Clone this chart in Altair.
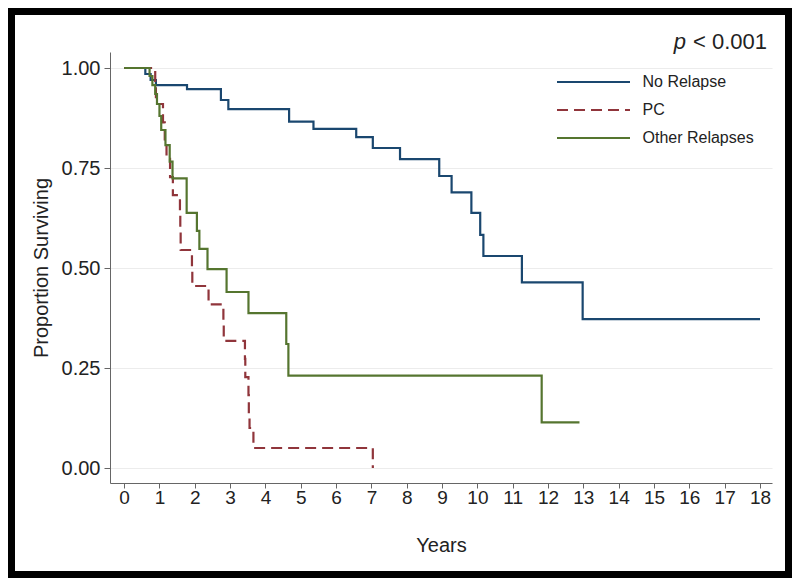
import altair as alt
import pandas as pd

# ---- data (Kaplan-Meier step curves) ----
series_names = ["No Relapse", "PC", "Other Relapses"]

no_relapse_t = [0, 0.6, 0.75, 0.9, 1.78, 2.74, 2.95, 4.67, 5.36, 6.57, 7.04, 7.81,
                8.92, 9.27, 9.83, 10.08, 10.17, 11.26, 12.98, 18.0]
no_relapse_s = [1.0, 0.985, 0.97, 0.957, 0.947, 0.92, 0.897, 0.866, 0.848, 0.827, 0.8, 0.772,
                0.73, 0.689, 0.638, 0.583, 0.53, 0.464, 0.372, 0.372]

pc_t = [0, 0.88, 0.9, 1.1, 1.15, 1.2, 1.3, 1.38, 1.58, 1.59, 1.6, 1.92, 1.93,
        2.39, 2.81, 2.82, 3.42, 3.43, 3.52, 3.53, 3.55, 3.66, 7.04]
pc_s = [1.0, 0.955, 0.91, 0.864, 0.818, 0.773, 0.727, 0.682, 0.636, 0.591, 0.545, 0.5, 0.455,
        0.409, 0.364, 0.318, 0.273, 0.227, 0.182, 0.136, 0.1, 0.05, 0.0]

other_t = [0, 0.72, 0.8, 0.88, 0.93, 1.0, 1.05, 1.17, 1.29, 1.37, 1.77, 2.06, 2.13,
           2.36, 2.9, 3.52, 4.59, 4.65, 11.82, 12.89]
other_s = [1.0, 0.98, 0.957, 0.935, 0.91, 0.88, 0.845, 0.807, 0.766, 0.724, 0.638, 0.593, 0.548,
           0.497, 0.44, 0.387, 0.31, 0.231, 0.114, 0.114]

x_ticks = list(range(0, 19))
y_ticks = [0, 0.25, 0.5, 0.75, 1.0]

colors = ["#1a476f", "#90353b", "#55752f"]
dashes = [[1, 0], [11, 6], [1, 0]]

rows = []
for name, ts, ss in [("No Relapse", no_relapse_t, no_relapse_s),
                     ("PC", pc_t, pc_s),
                     ("Other Relapses", other_t, other_s)]:
    for t, s in zip(ts, ss):
        rows.append({"series": name, "t": t, "s": s})
df = pd.DataFrame(rows)

FONT = "Liberation Sans"

leg = alt.Legend(
    title=None, orient="none", legendX=447, legendY=22, padding=0,
    symbolType="M-10,0H10", symbolSize=53.29, symbolStrokeWidth=2,
    symbolOffset=28.5, labelOffset=41, labelFontSize=16, labelFont=FONT,
    labelColor="#222222", rowPadding=12,
)

lines = alt.Chart(df).mark_line(interpolate="step-after", strokeWidth=2.2).encode(
    x=alt.X("t:Q",
            scale=alt.Scale(domain=[-0.4, 18.34], nice=False, zero=False),
            axis=alt.Axis(values=x_ticks, title="Years", grid=False, format="d",
                          labelFontSize=19, titleFontSize=20, titleFontWeight="normal",
                          tickSize=5, labelPadding=0, titlePadding=28,
                          domainColor="#666666", tickColor="#666666",
                          labelColor="#222222", titleColor="#222222")),
    y=alt.Y("s:Q",
            scale=alt.Scale(domain=[-0.0375, 1.04], nice=False, zero=False),
            axis=alt.Axis(values=y_ticks, format=".2f", title="Proportion Surviving",
                          grid=True, gridColor="#ececec", gridWidth=1.2,
                          labelFontSize=20, titleFontSize=20, titleFontWeight="normal",
                          tickSize=6, labelPadding=4, titlePadding=10,
                          domainColor="#666666", tickColor="#666666",
                          labelColor="#222222", titleColor="#222222")),
    color=alt.Color("series:N", scale=alt.Scale(domain=series_names, range=colors), legend=leg),
    strokeDash=alt.StrokeDash("series:N", scale=alt.Scale(domain=series_names, range=dashes), legend=leg),
)

one = pd.DataFrame({"k": [0]})
p_text = alt.Chart(one).mark_text(text="p", font=FONT, fontSize=22, fontStyle="italic",
                                  align="right", baseline="alphabetic", color="#222222").encode(
    x=alt.value(576), y=alt.value(-3))
val_text = alt.Chart(one).mark_text(text="< 0.001", font=FONT, fontSize=22,
                                    align="right", baseline="alphabetic", color="#222222").encode(
    x=alt.value(657), y=alt.value(-3))
frame = alt.Chart(one).mark_rect(fill="transparent", stroke="black", strokeWidth=7).encode(
    x=alt.value(-98.5), x2=alt.value(678.5), y=alt.value(-40.5), y2=alt.value(522.5))

chart = alt.layer(lines, p_text, val_text, frame).properties(
    width=662, height=431,
    autosize=alt.AutoSizeParams(type="none"),
    padding={"left": 102, "top": 44, "right": 20, "bottom": 95},
    background="white",
).configure(font=FONT).configure_view(stroke="transparent", strokeWidth=0)

chart.save("out.html", embed_options={"renderer": "svg", "actions": False})
